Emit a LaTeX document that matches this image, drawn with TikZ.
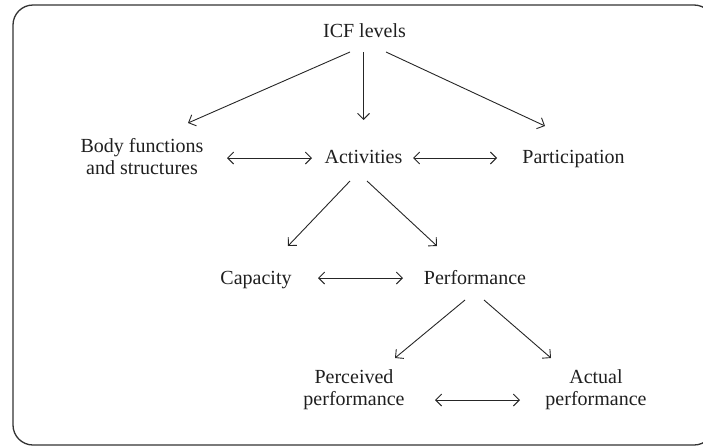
\documentclass[tikz,border=0pt]{standalone}
\usepackage{fontspec}
\setmainfont{Liberation Serif}
\usepackage{tikz}
\usetikzlibrary{arrows.meta}

\begin{document}
\begin{tikzpicture}[x=1pt, y=-1pt,
		lbl/.style={inner sep=0pt, text=black!88, font=\fontsize{20}{22}\selectfont},
		arr/.style={-{Straight Barb[length=6pt,width=12pt]}, line width=0.9pt, color=black!85},
		biarr/.style={{Straight Barb[length=6pt,width=12pt]}-{Straight Barb[length=6pt,width=12pt]}, line width=0.9pt, color=black!85}]
		%%%%% START %%%%%
		
		\useasboundingbox (0, 0) rectangle (703, 445);
		\draw[line width=1.3pt, color=black!80, rounded corners=20pt] (13, 5) rectangle (714, 445);
		
		\node[lbl, anchor=base] (icf) at (364.5, 37) {ICF levels};
		
		\node[lbl, align=center] (body) at (142, 157) {Body functions\\and structures};
		\node[lbl, anchor=base] (activities) at (363.5, 163) {Activities};
		\node[lbl, anchor=base] (participation) at (573.5, 163) {Participation};
		
		\node[lbl, anchor=base] (capacity) at (256, 284) {Capacity};
		\node[lbl, anchor=base] (performance) at (475, 284) {Performance};
		
		\node[lbl, align=center] (perceived) at (354, 390) {Perceived\\performance};
		\node[lbl, align=center] (actual) at (596, 390) {Actual\\performance};
		
		\draw[arr] ([shift={(-14.5, 15)}]icf.base) -- ([shift={(46, -34)}]body.center);
		\draw[arr] ([shift={(-1, 15)}]icf.base) -- ([shift={(0, -43)}]activities.base);
		\draw[arr] ([shift={(21.5, 15)}]icf.base) -- ([shift={(-28.5, -37)}]participation.base);
		
		\draw[biarr] ([shift={(85, 1)}]body.center) -- ([shift={(-51.5, -5)}]activities.base);
		\draw[biarr] ([shift={(49.5, -5)}]activities.base) -- ([shift={(-76.5, -5)}]participation.base);
		
		\draw[arr] ([shift={(-13.5, 18)}]activities.base) -- ([shift={(32, -38)}]capacity.base);
		\draw[arr] ([shift={(3.5, 18)}]activities.base) -- ([shift={(-38, -38)}]performance.base);
		\draw[biarr] ([shift={(62, -6)}]capacity.base) -- ([shift={(-72, -6)}]performance.base);
		
		\draw[arr] ([shift={(-10, 16)}]performance.base) -- ([shift={(41, -32)}]perceived.center);
		\draw[arr] ([shift={(9, 16)}]performance.base) -- ([shift={(-45, -32)}]actual.center);
		\draw[biarr] ([shift={(81, 10)}]perceived.center) -- ([shift={(-76, 10)}]actual.center);
		
		%%%%% END %%%%%
\end{tikzpicture}
\end{document}
